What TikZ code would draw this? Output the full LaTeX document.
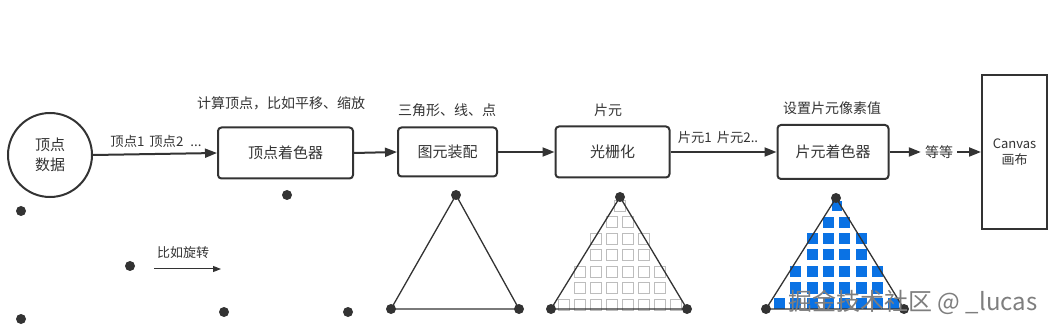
\documentclass[tikz,border=0pt]{standalone}
\usepackage{fontspec}
\setmainfont{Noto Sans CJK SC}
\usetikzlibrary{arrows.meta}
\definecolor{ink}{HTML}{333333}
\definecolor{pix}{HTML}{0A72E4}
\definecolor{cellgray}{HTML}{BDBDBD}
\definecolor{wm}{HTML}{7E7E7E}
\tikzset{
  stage/.style={draw=ink, line width=2pt, rounded corners=3.5pt, inner sep=0pt,
    font=\fontsize{15}{18}\selectfont, text=ink},
  lbl/.style={font=\fontsize{14}{16}\selectfont, text=ink, inner sep=0pt},
  smalllbl/.style={font=\fontsize{13.3}{15}\selectfont, text=ink, inner sep=0pt},
  flow/.style={draw=ink, line width=2pt, -{Triangle[length=12pt,width=9pt]}},
  thinflow/.style={draw=ink, line width=1pt, -{Triangle[length=8pt,width=6pt]}},
  blob/.style={circle, fill=ink, minimum size=10pt, inner sep=0pt},
  triline/.style={draw=ink, line width=1.3pt},
  cell/.style={draw=cellgray, line width=0.9pt},
  bluecell/.style={fill=pix},
}
\begin{document}
\begin{tikzpicture}[x=1pt,y=-1pt]
\useasboundingbox (0,0) rectangle (1058,331);

% main pipeline
\node[circle, draw=ink, line width=2pt, minimum size=84pt, inner sep=0pt,
  font=\fontsize{15}{20}\selectfont, text=ink, align=center] (data) at (50,155) {顶点\\数据};
\node[stage, minimum width=135pt, minimum height=51pt] (vs) at (285.5,153) {顶点着色器};
\node[stage, minimum width=99pt, minimum height=49pt] (pa) at (447.5,152) {图元装配};
\node[stage, minimum width=114pt, minimum height=51pt] (ra) at (612.5,152) {光栅化};
\node[stage, minimum width=111pt, minimum height=54pt] (fs) at (833,152) {片元着色器};
\node[lbl, inner sep=4pt] (etc) at (939,152) {等等};
\node[draw=ink, line width=2pt, minimum width=65pt, minimum height=154pt, inner sep=0pt,
  font=\fontsize{13}{16}\selectfont, text=ink, align=center] (cv) at (1014.5,152) {Canvas\\画布};

\draw[flow] (data.east) -- (vs.west);
\draw[flow] (vs.east) -- (pa.west);
\draw[flow] (pa.east) -- (ra.west);
\draw[flow] (ra.east) -- (fs.west);
\draw[flow] (fs.east) -- (etc.west);
\draw[flow] (etc.east) -- (cv.west);

% labels
\node[lbl] (l1) at (281,103) {计算顶点，比如平移、缩放};
\node[lbl] (l2) at (447,110) {三角形、线、点};
\node[lbl] (l3) at (608,110) {片元};
\node[lbl] (l4) at (832,108) {设置片元像素值};
\node[smalllbl] (l5) at (156,141) {顶点1\hspace{5pt}顶点2\hspace{7pt}...};
\node[smalllbl] (l6) at (718,137) {片元1\hspace{5pt}片元2..};

% scattered points
\node[blob] (p1) at (21,211) {};
\node[blob] (p2) at (287,195) {};
\node[blob] (p3) at (130,266) {};
\node[blob] (p4) at (21,319) {};
\node[blob] (p5) at (224,312) {};
\node[blob] (p6) at (348,312) {};
\node[lbl, font=\fontsize{13}{16}\selectfont] (rot) at (183,253) {比如旋转};
\coordinate (r1) at (154,269);
\coordinate (r2) at (221,269);
\draw[thinflow] (r1) -- (r2);

% triangle 1
\coordinate (a1) at (456,195);
\coordinate (b1) at (391,309);
\coordinate (c1) at (519,309);
\draw[triline] (a1) -- (b1) -- (c1) -- cycle;
\node[blob] (ta1) at (a1) {};
\node[blob] (tb1) at (b1) {};
\node[blob] (tc1) at (c1) {};

% triangle 2 (rasterized grid)
\draw[cell] (620-5.5,205.5-5.5) rectangle ++(11,11);
\foreach \y/\ka/\kb in {222/3/4, 238.5/2/5, 255/2/5, 271.5/1/6, 288/1/6, 304.5/0/7}{
  \foreach \k in {\ka,...,\kb}{
    \draw[cell] ({563.5+16*\k-5.5},{\y-5.5}) rectangle ++(11,11);
  }
}
\coordinate (a2) at (620,197);
\coordinate (b2) at (551,309);
\coordinate (c2) at (687,309);
\draw[triline] (a2) -- (b2) -- (c2) -- cycle;
\node[blob] (ta2) at (a2) {};
\node[blob] (tb2) at (b2) {};
\node[blob] (tc2) at (c2) {};

% triangle 3 (shaded fragments)
\fill[bluecell] (836.5-5,206.5-5) rectangle ++(10,10);
\foreach \y/\ka/\kb in {223/3/4, 239/2/5, 255/2/5, 272/1/6, 288/1/6, 303.5/0/7}{
  \foreach \k in {\ka,...,\kb}{
    \fill[bluecell] ({779.5+16.3*\k-5.5},{\y-5.5}) rectangle ++(11,11);
  }
}
\coordinate (a3) at (836,198);
\coordinate (b3) at (766,309);
\coordinate (c3) at (904,309);
\draw[triline] (a3) -- (b3) -- (c3) -- cycle;
\node[blob] (ta3) at (a3) {};
\node[blob] (tb3) at (b3) {};
\node[blob] (tc3) at (c3) {};

% watermark
\node[font=\fontsize{24}{28}\selectfont, text=wm, inner sep=0pt] (mark) at (913,302) {掘金技术社区 @ \_lucas};
\end{tikzpicture}
\end{document}
